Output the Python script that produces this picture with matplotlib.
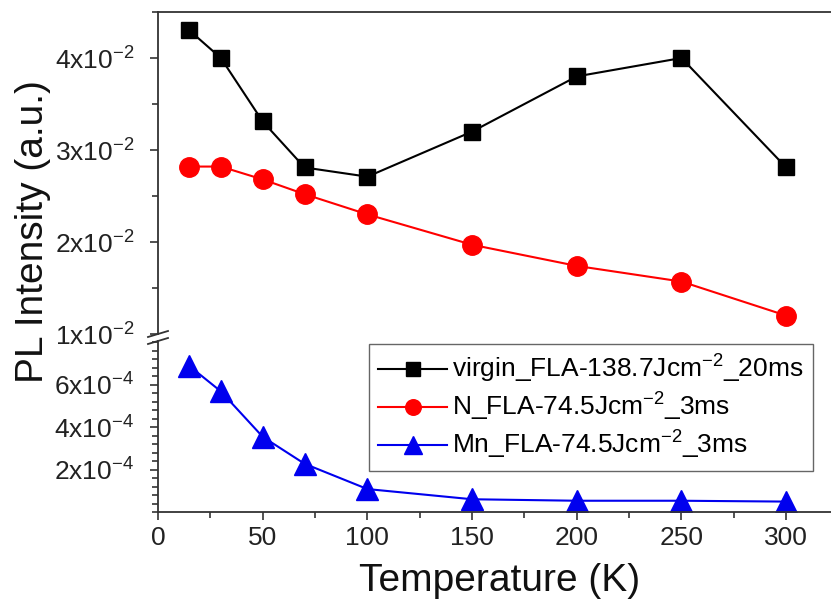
import matplotlib
matplotlib.use("Agg")
import matplotlib.pyplot as plt
from matplotlib.ticker import MultipleLocator, FixedLocator
from matplotlib.lines import Line2D

# -----------------------------
# Data
# -----------------------------
temperature = [15, 30, 50, 70, 100, 150, 200, 250, 300]
virgin = [4.30e-2, 4.00e-2, 3.31e-2, 2.81e-2, 2.71e-2, 3.20e-2, 3.80e-2, 4.00e-2, 2.81e-2]
n_fla = [2.82e-2, 2.82e-2, 2.68e-2, 2.52e-2, 2.30e-2, 1.97e-2, 1.74e-2, 1.57e-2, 1.20e-2]
mn_fla = [6.87e-4, 5.68e-4, 3.54e-4, 2.27e-4, 1.08e-4, 0.60e-4, 0.53e-4, 0.53e-4, 0.49e-4]

series_labels = [
    r"virgin_FLA-138.7Jcm$^{-2}$_20ms",
    r"N_FLA-74.5Jcm$^{-2}$_3ms",
    r"Mn_FLA-74.5Jcm$^{-2}$_3ms",
]

upper_ticks = [1e-2, 2e-2, 3e-2, 4e-2]
upper_tick_labels = [r"1x10$^{-2}$", r"2x10$^{-2}$", r"3x10$^{-2}$", r"4x10$^{-2}$"]
lower_ticks = [2e-4, 4e-4, 6e-4]
lower_tick_labels = [r"2x10$^{-4}$", r"4x10$^{-4}$", r"6x10$^{-4}$"]

# -----------------------------
# Style
# -----------------------------
plt.rcParams["font.family"] = ["Liberation Sans", "DejaVu Sans"]
plt.rcParams["mathtext.default"] = "regular"

W, H = 831, 605
spine_color = "#333333"
tick_size = 19


def px_rect(left, top, right, bottom):
    return [left / W, 1 - bottom / H, (right - left) / W, (bottom - top) / H]


fig = plt.figure(figsize=(W / 100, H / 100), dpi=100)
ax_up = fig.add_axes(px_rect(158, 12, 831, 334))
ax_lo = fig.add_axes(px_rect(158, 341, 831, 512))

# -----------------------------
# Plot
# -----------------------------
h1, = ax_up.plot(temperature, virgin, color="black", lw=1.5,
                 marker="s", ms=12, label=series_labels[0])
h2, = ax_up.plot(temperature, n_fla, color="red", lw=1.5,
                 marker="o", ms=14, label=series_labels[1])
h3, = ax_lo.plot(temperature, mn_fla, color="#0000ee", lw=1.5,
                 marker="^", ms=16, label=series_labels[2])

for ax in (ax_up, ax_lo):
    ax.set_xlim(0, 321.4)
    ax.spines["right"].set_visible(False)
    for s in ax.spines.values():
        s.set_color(spine_color)
        s.set_linewidth(1.3)
    ax.tick_params(axis="both", which="both", direction="out",
                   colors=spine_color, labelcolor="#222222",
                   labelsize=tick_size, width=1.2)
    ax.tick_params(axis="y", which="major", length=6, pad=11)
    ax.tick_params(axis="y", which="minor", length=4)

ax_up.set_ylim(1e-2, 4.5e-2)
ax_up.spines["bottom"].set_visible(False)
ax_up.tick_params(axis="x", which="both", bottom=False, labelbottom=False)
ax_up.yaxis.set_major_locator(FixedLocator(upper_ticks))
ax_up.set_yticklabels(upper_tick_labels)
ax_up.yaxis.set_minor_locator(MultipleLocator(0.5e-2))

ax_lo.set_ylim(0, 8.05e-4)
ax_lo.spines["top"].set_visible(False)
ax_lo.yaxis.set_major_locator(FixedLocator(lower_ticks))
ax_lo.set_yticklabels(lower_tick_labels)
ax_lo.yaxis.set_minor_locator(MultipleLocator(0.4e-4))
ax_lo.xaxis.set_major_locator(MultipleLocator(50))
ax_lo.xaxis.set_minor_locator(MultipleLocator(25))
ax_lo.tick_params(axis="x", which="major", length=6, pad=4)
ax_lo.tick_params(axis="x", which="minor", length=4)

# axis break marks
for y0 in (334, 341):
    fig.add_artist(Line2D([148 / W, 168 / W], [1 - (y0 + 3) / H, 1 - (y0 - 3) / H],
                          transform=fig.transFigure, color=spine_color, lw=1.3))

# labels
fig.text(33 / W, 1 - 232 / H, "PL Intensity (a.u.)", rotation=90,
         ha="center", va="center", fontsize=28, color="#111111")
fig.text(500 / W, 1 - 581 / H, "Temperature (K)",
         ha="center", va="center", fontsize=28, color="#111111")

leg = ax_lo.legend(handles=[h1, h2, h3], loc="upper right",
                   bbox_to_anchor=(813 / W, 1 - 344 / H), bbox_transform=fig.transFigure,
                   borderaxespad=0, fontsize=19, fancybox=False, framealpha=1,
                   edgecolor="#666666", handlelength=2.6, handletextpad=0.2,
                   labelspacing=0.22, borderpad=0.35, markerscale=0.8)
leg.get_frame().set_linewidth(1.0)

plt.savefig("out.png", dpi=100)
